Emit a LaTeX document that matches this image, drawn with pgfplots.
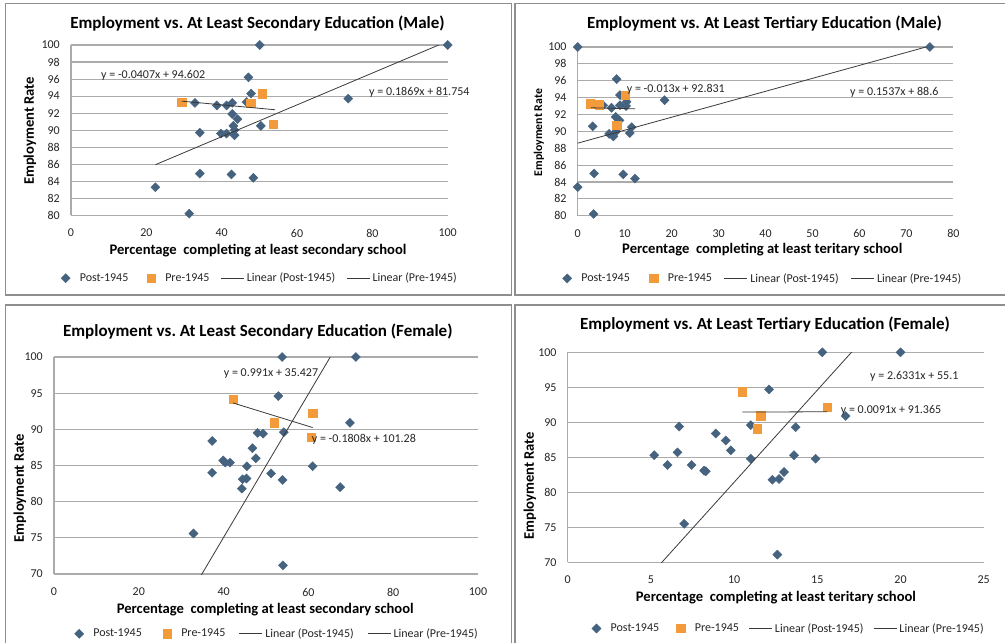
\documentclass[border=0pt]{standalone}
\usepackage{fontspec}
\setmainfont{Carlito}
\usepackage{pgfplots}
\pgfplotsset{compat=1.18}
\frenchspacing

\definecolor{postc}{HTML}{45627F}
\definecolor{prec}{HTML}{F39A3A}
\definecolor{gridc}{HTML}{ABABAB}
\definecolor{framec}{HTML}{8E8E8E}
\definecolor{trendc}{HTML}{3A3A3A}
\definecolor{textc}{HTML}{262626}

\pgfplotsset{
  excel/.style={
    scale only axis,
    anchor=south west,
    axis x line=bottom, axis y line=left,
    axis line style={-, draw=gridc, line width=1.1pt},
    ymajorgrids, grid style={draw=gridc, line width=1.1pt},
    major tick length=0pt,
    tick style={draw=none},
    clip mode=individual,
    /pgf/number format/assume math mode=true,
    tick label style={font=\fontsize{12}{14}\selectfont, text=textc},
    yticklabel style={anchor=east, inner sep=0pt, xshift=-11pt},
    xticklabel style={anchor=north, inner sep=0pt, yshift=-13.7pt},
    every axis title shift=0pt,
    title style={font=\fontsize{17}{20}\selectfont\bfseries, anchor=center, yshift=0pt},
    xlabel style={font=\fontsize{14.6}{17}\selectfont\bfseries, anchor=center},
    ylabel style={font=\fontsize{14.6}{17}\selectfont\bfseries, anchor=center},
    legend columns=4,
    legend image code/.code={\draw[mark repeat=2,mark phase=2,##1] plot coordinates {(0pt,0pt) (11.5pt,0pt) (23pt,0pt)};},
    legend style={draw=none, fill=none, inner sep=0pt, outer sep=0pt, anchor=west,
      font=\fontsize{12}{14}\selectfont, text=textc, nodes={inner sep=0pt},
      /tikz/every odd column/.append style={column sep=2.5pt}},
  },
  markkey/.style={legend image code/.code={\draw[##1] plot coordinates {(11.5pt,0pt)}; \path (0pt,0pt) (23pt,0pt);}},
  postm/.style={only marks, mark=square*, mark size=3.2pt,
    mark options={rotate=45, fill=postc, draw=postc}, markkey},
  prem/.style={only marks, mark=square*, mark size=4.2pt,
    mark options={fill=prec, draw=prec}, markkey},
  trend/.style={no marks, draw=trendc, line width=0.8pt},
}

\begin{document}
\begin{tikzpicture}
\path[use as bounding box, fill=white] (0pt,0pt) rectangle (1005pt,-643pt);

% chart area frames
\begin{scope}[draw=framec, line width=1.4pt]
  \draw (5.3pt,-3.3pt) rectangle (511.7pt,-295pt);
  \draw (515pt,-3.3pt) rectangle (1012pt,-295pt);
  \draw (5.3pt,-305pt) rectangle (511.7pt,-650pt);
  \draw (515pt,-305pt) rectangle (1012pt,-650pt);
\end{scope}

% ---- Male, secondary ----
\begin{axis}[excel,
  at={(71pt,-215.3pt)}, width=376.7pt, height=170.3pt,
  xmin=0, xmax=100, ymin=80, ymax=100,
  xtick={0,20,...,100}, ytick={80,82,...,100},
  title={Employment vs. At Least Secondary Education (Male)},
  title style={at={(0.4951,1.1274)}},
  xlabel={Percentage\ \ completing at least secondary school},
  xlabel style={at={(0.4964,-0.2096)}},
  ylabel={Employment Rate},
  ylabel style={at={(-0.1088,0.495)}},
  legend style={at={(-0.04513,-0.369)},
    /tikz/every even column/.append style={column sep=11pt}},
]
\addplot[postm] coordinates {
  (50.1,100) (100,100) (47.1,96.2) (47.8,94.3) (46.6,93.3) (32.9,93.2)
  (38.7,92.9) (41.3,92.9) (42.8,93.2) (42.8,91.9) (44.2,91.3) (43.1,90.5)
  (43.4,90.0) (50.4,90.5) (34.2,89.7) (39.8,89.6) (41.3,89.6) (43.4,89.4)
  (22.4,83.3) (34.2,84.9) (42.6,84.8) (48.4,84.4) (31.4,80.2) (73.6,93.7)};
\addlegendentry{Post-1945}
\addplot[prem] coordinates {(29.4,93.3) (47.7,93.15) (50.8,94.3) (53.7,90.7)};
\addlegendentry{Pre-1945}
\addplot[trend] coordinates {(22.4,85.941) (100,100.444)};
\addlegendentry{Linear (Post-1945)}
\addplot[trend] coordinates {(29.4,93.405) (54.2,92.396)};
\addlegendentry{Linear (Pre-1945)}
\end{axis}

% ---- Male, tertiary ----
\begin{axis}[excel,
  at={(577.7pt,-215.7pt)}, width=375.7pt, height=168.7pt,
  xmin=0, xmax=80, ymin=80, ymax=100,
  xtick={0,10,...,80}, ytick={80,82,...,100},
  title={Employment vs. At Least Tertiary Education (Male)},
  title style={at={(0.4972,1.1405)}},
  xlabel={Percentage\ \ completing at least teritary school},
  xlabel style={at={(0.4914,-0.2033)}},
  ylabel={Employment Rate},
  ylabel style={at={(-0.103,0.4932)}, font=\fontsize{11.8}{14}\selectfont\bfseries},
  legend style={at={(-0.0591,-0.372)},
    /tikz/every even column/.append style={column sep=12pt}},
]
\addplot[postm] coordinates {
  (0,100) (75,100) (8.3,96.2) (9.0,94.3) (18.5,93.7) (5.4,93.1) (7.2,92.8)
  (9.0,93.1) (10.3,93.0) (10.4,93.5) (8.1,91.7) (8.9,91.3) (3.2,90.6)
  (11.5,90.5) (11.1,89.8) (6.7,89.7) (7.6,89.4) (8.2,90.0) (3.5,85.0)
  (9.7,84.9) (12.2,84.4) (0,83.4) (3.4,80.2)};
\addlegendentry{Post-1945}
\addplot[prem] coordinates {(2.6,93.3) (4.6,93.15) (10.1,94.3) (8.3,90.7)};
\addlegendentry{Pre-1945}
\addplot[trend] coordinates {(0,88.6) (75,100.128)};
\addlegendentry{Linear (Post-1945)}
\addplot[trend] coordinates {(2.8,92.795) (12.2,92.672)};
\addlegendentry{Linear (Pre-1945)}
\end{axis}

% ---- Female, secondary ----
\begin{axis}[excel,
  at={(54pt,-574pt)}, width=424pt, height=217pt,
  xmin=0, xmax=100, ymin=70, ymax=100,
  xtick={0,20,...,100}, ytick={70,75,...,100},
  title={Employment vs. At Least Secondary Education (Female)},
  title style={at={(0.4807,1.1166)}},
  xlabel={Percentage\ \ completing at least secondary school},
  xlabel style={at={(0.4983,-0.1627)}},
  ylabel={Employment Rate},
  ylabel style={at={(-0.0802,0.3949)}},
  legend style={at={(0.0318,-0.2757)},
    /tikz/every even column/.append style={column sep=13.5pt}},
]
\addplot[postm] coordinates {
  (53.8,100) (71.2,100) (52.9,94.6) (69.8,90.9) (54.2,89.6) (48.0,89.5)
  (49.3,89.4) (37.3,88.4) (46.8,87.4) (47.6,86.0) (39.9,85.7) (40.4,85.4)
  (41.5,85.4) (45.5,84.9) (61.0,84.9) (37.3,84.0) (51.2,83.9) (53.9,83.0)
  (44.5,83.1) (45.4,83.2) (44.3,81.8) (67.5,82.0) (32.9,75.6) (54.0,71.2)};
\addlegendentry{Post-1945}
\addplot[prem] coordinates {(42.2,94.2) (51.9,90.9) (61.0,92.2) (60.7,88.9)};
\addlegendentry{Pre-1945}
\addplot[trend] coordinates {(32.9,68.031) (71.2,105.986)};
\addlegendentry{Linear (Post-1945)}
\addplot[trend] coordinates {(42.2,93.650) (61.0,90.251)};
\addlegendentry{Linear (Pre-1945)}
\end{axis}

% ---- Female, tertiary ----
\begin{axis}[excel,
  at={(567.7pt,-562.3pt)}, width=416pt, height=210pt,
  xmin=0, xmax=25, ymin=70, ymax=100,
  xtick={0,5,...,25}, ytick={70,75,...,100},
  title={Employment vs. At Least Tertiary Education (Female)},
  title style={at={(0.4743,1.13)}},
  xlabel={Percentage\ \ completing at least teritary school},
  xlabel style={at={(0.5007,-0.1686)}},
  ylabel={Employment Rate},
  ylabel style={at={(-0.0906,0.3643)}},
  legend style={at={(0.0411,-0.3152)},
    /tikz/every even column/.append style={column sep=9.7pt}},
]
\addplot[postm] coordinates {
  (15.3,100) (20.0,100) (12.1,94.7) (16.7,90.9) (6.7,89.4) (11.0,89.6)
  (13.7,89.3) (8.9,88.4) (9.5,87.4) (9.8,86.0) (5.2,85.3) (6.6,85.7)
  (13.6,85.3) (6.0,83.9) (7.45,83.9) (8.2,83.1) (8.3,83.0) (11.0,84.8)
  (14.9,84.8) (12.3,81.8) (12.7,81.9) (13.0,82.9) (7.0,75.5) (12.6,71.1)};
\addlegendentry{Post-1945}
\addplot[prem] coordinates {(10.5,94.4) (11.6,90.95) (11.4,89.1) (15.6,92.2)};
\addlegendentry{Pre-1945}
\addplot[trend] coordinates {(5.2,68.792) (20,107.762)};
\addlegendentry{Linear (Post-1945)}
\addplot[trend] coordinates {(10.5,91.461) (15.6,91.507)};
\addlegendentry{Linear (Pre-1945)}
\end{axis}

% trendline equations
\begin{scope}[every node/.style={anchor=west, inner sep=0pt, text=textc,
    font=\fontsize{12}{14}\selectfont}]
  \node at (101pt,-75pt) {y = -0.0407x + 94.602};
  \node at (369pt,-92.3pt) {y = 0.1869x + 81.754};
  \node at (626.7pt,-89.3pt) {y = -0.013x + 92.831};
  \node at (850pt,-92.3pt) {y = 0.1537x + 88.6};
  \node at (223.7pt,-374pt) {y = 0.991x + 35.427};
  \node at (311.7pt,-439.3pt) {y = -0.1808x + 101.28};
  \node at (870pt,-376.7pt) {y = 2.6331x + 55.1};
  \node at (840.7pt,-410pt) {y = 0.0091x + 91.365};
\end{scope}
\end{tikzpicture}
\end{document}
